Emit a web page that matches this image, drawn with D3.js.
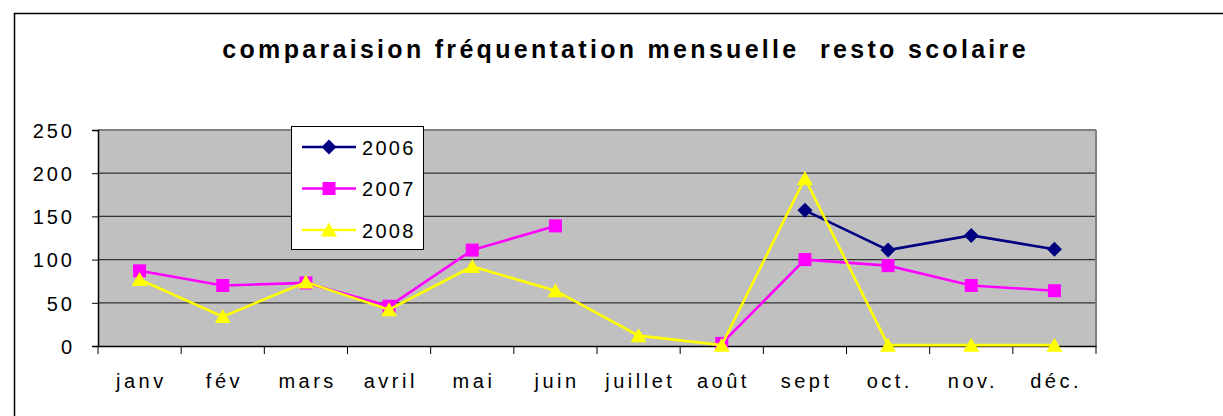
<!DOCTYPE html>
<html><head><meta charset="utf-8">
<script src="https://cdn.jsdelivr.net/npm/d3@7"></script>
<style>body{margin:0;background:#fff}svg{display:block}</style>
</head><body>
<script>
const months = ["janv","fév","mars","avril","mai","juin","juillet","août","sept","oct.","nov.","déc."];
const s2006 = [null,null,null,null,null,null,null,null,157,111,128,112];
const s2007 = [87,70,73,46,111,139,null,3,100,93,70,64];
const s2008 = [77,34,74,42,92,64,12,1,194,1,1,1];
const yTicks = [0,50,100,150,200,250];
const seriesNames = ["2006","2007","2008"];
const seriesColors = ["#000080","#FF00FF","#FFFF00"];
const title = "comparaision fréquentation mensuelle  resto scolaire";

const markerPaths = [
  "M0,-7.5L7.5,0L0,7.5L-7.5,0Z",
  "M-6.5,-6.5H6.5V6.5H-6.5Z",
  "M0,-7.5L8,6.5H-8Z"
];

const W = 1223, H = 416;
const FONT = "'Liberation Sans', Arial, sans-serif";
const svg = d3.select("body").append("svg").attr("width", W).attr("height", H)
  .style("font-family", FONT);

svg.append("rect").attr("x", 14.5).attr("y", 13.5).attr("width", W).attr("height", H)
  .attr("fill", "#fff").attr("stroke", "#000").attr("stroke-width", 1.5);

svg.append("text").attr("x", 624 + 1.6).attr("y", 58).attr("text-anchor", "middle")
  .attr("font-size", 25).attr("font-weight", "bold").style("white-space", "pre")
  .attr("letter-spacing", 3.3).text(title);

const L = 98, R = 1096, T = 130, B = 346;
const x = d3.scaleBand().domain(months).range([L, R]);
const y = d3.scaleLinear().domain([0, 250]).range([B, T]);

svg.append("rect").attr("x", L).attr("y", T).attr("width", R - L).attr("height", B - T)
  .attr("fill", "#C0C0C0");
svg.append("g").selectAll("line").data(yTicks.filter(d => d > 0)).join("line")
  .attr("x1", L).attr("x2", R).attr("y1", d => y(d)).attr("y2", d => y(d))
  .attr("stroke", d => d === 250 ? "#808080" : "#333").attr("stroke-width", d => d === 250 ? 2 : 1.2);
svg.append("line").attr("x1", R).attr("x2", R).attr("y1", T).attr("y2", B)
  .attr("stroke", "#808080").attr("stroke-width", 2);

const yAxis = svg.append("g").attr("transform", `translate(${L},0)`)
  .call(d3.axisLeft(y).tickValues(yTicks).tickSize(6).tickPadding(20));
yAxis.select(".domain").attr("stroke", "#000").attr("stroke-width", 1.5);
yAxis.selectAll(".tick line").attr("stroke", "#000");
yAxis.selectAll("text").attr("font-size", 20).attr("fill", "#000").attr("letter-spacing", 3)
  .attr("dx", 3).attr("dy", "0.36em").attr("font-family", FONT);

const xAxis = svg.append("g").attr("transform", `translate(0,${B})`)
  .call(d3.axisBottom(x).tickSize(0).tickPadding(30));
xAxis.select(".domain").attr("stroke", "#000").attr("stroke-width", 1.5);
xAxis.selectAll("text").attr("font-size", 20).attr("fill", "#000").attr("letter-spacing", 3.5)
  .attr("dx", 1.7).attr("dy", "0.6em").attr("font-family", FONT);
const bounds = months.map(m => x(m)).concat([R]);
svg.append("g").selectAll("line").data(bounds).join("line")
  .attr("x1", d => d).attr("x2", d => d).attr("y1", B).attr("y2", B + 8)
  .attr("stroke", "#000").attr("stroke-width", 1);

const cx = m => x(m) + x.bandwidth() / 2;
[s2006, s2007, s2008].forEach((vals, i) => {
  const pts = months.map((m, j) => ({m, v: vals[j]}));
  const line = d3.line().defined(d => d.v !== null).x(d => cx(d.m)).y(d => y(d.v));
  svg.append("path").datum(pts).attr("d", line).attr("fill", "none")
    .attr("stroke", seriesColors[i]).attr("stroke-width", 2.6);
  svg.append("g").selectAll("path").data(pts.filter(d => d.v !== null)).join("path")
    .attr("d", markerPaths[i])
    .attr("transform", d => `translate(${cx(d.m)},${y(d.v)})`)
    .attr("fill", seriesColors[i]);
});

const lg = svg.append("g");
lg.append("rect").attr("x", 291.5).attr("y", 126.5).attr("width", 132).attr("height", 123)
  .attr("fill", "#fff").attr("stroke", "#000").attr("stroke-width", 1);
seriesNames.forEach((n, i) => {
  const yy = 147 + i * 41.5;
  lg.append("line").attr("x1", 302).attr("x2", 356).attr("y1", yy).attr("y2", yy)
    .attr("stroke", seriesColors[i]).attr("stroke-width", 2.6);
  lg.append("path").attr("d", markerPaths[i])
    .attr("transform", `translate(329,${yy})`)
    .attr("fill", seriesColors[i]);
  lg.append("text").attr("x", 362).attr("y", yy + 7.5).attr("font-size", 20)
    .attr("letter-spacing", 2.3).text(n);
});
</script>
</body></html>
